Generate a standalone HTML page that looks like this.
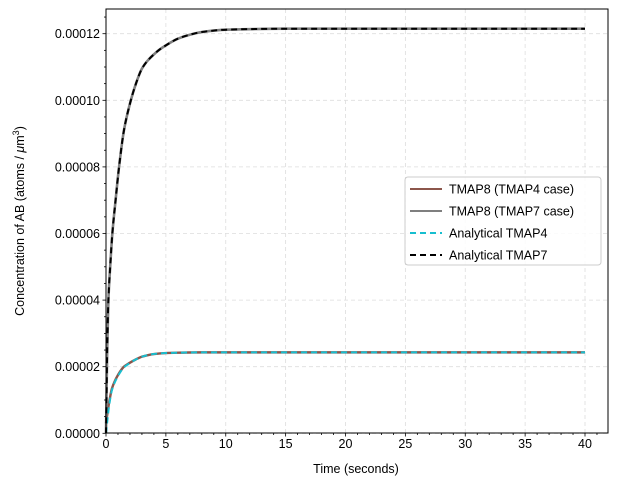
<!DOCTYPE html>
<html><head><meta charset="utf-8"><style>
body{margin:0;background:#fff;font-family:"Liberation Sans",sans-serif}
svg text{font-family:"Liberation Sans","DejaVu Sans",sans-serif;font-size:12.5px;fill:#000}
</style></head><body>
<svg id="c" width="618" height="486"></svg>
<script>
const tA=[0,0.1,0.2,0.35,0.53,0.8,1.09,1.5,2.0,2.5,3,3.5,4,4.5,5,6,7,8,10,15,20,30,40];
const vTMAP7=[0,2.5,4,5,6,7,8,9.1,9.9,10.5,10.95,11.2,11.38,11.53,11.65,11.85,11.97,12.05,12.12,12.15,12.15,12.15,12.15];
const tB=[0,0.25,0.5,1,1.5,2,2.5,3,4,5,6,8,10,20,30,40];
const vTMAP4=[0.3,0.9,1.35,1.75,2.0,2.12,2.22,2.3,2.38,2.41,2.42,2.43,2.43,2.43,2.43,2.43];
const vAna4=[0,0.8,1.3,1.72,1.98,2.11,2.22,2.3,2.38,2.41,2.42,2.43,2.43,2.43,2.43,2.43];
const xTicks=[0,5,10,15,20,25,30,35,40];
const yTicks=[0,2,4,6,8,10,12];
const yLabels=["0.00000","0.00002","0.00004","0.00006","0.00008","0.00010","0.00012"];
const L=106,R=608,T=9,B=433;
const X=t=>106+t*11.975, Y=v=>433.3-v*33.3;
const s=document.getElementById('c'),NS='http://www.w3.org/2000/svg';
function el(tag,a,p){const e=document.createElementNS(NS,tag);for(const k in a)e.setAttribute(k,a[k]);(p||s).appendChild(e);return e;}
const g=el('g',{});

xTicks.forEach(t=>el('line',{x1:X(t),x2:X(t),y1:T,y2:B,stroke:'#ddd','stroke-dasharray':'4,3','stroke-width':0.8},g));
yTicks.forEach(v=>el('line',{x1:L,x2:R,y1:Y(v),y2:Y(v),stroke:'#ddd','stroke-dasharray':'4,3','stroke-width':0.8},g));
function smoothPath(ts,vs){
  const px=ts.map(X),py=vs.map(Y),n=px.length;
  const d=[],m=[];
  for(let i=0;i<n-1;i++)d.push((py[i+1]-py[i])/(px[i+1]-px[i]));
  for(let i=0;i<n;i++){
    if(i===0)m.push(d[0]);else if(i===n-1)m.push(d[n-2]);
    else m.push(d[i-1]*d[i]<=0?0:2/(1/d[i-1]+1/d[i]));
  }
  let p='M'+px[0].toFixed(2)+','+py[0].toFixed(2);
  for(let i=0;i<n-1;i++){const h=(px[i+1]-px[i])/3;
    p+='C'+(px[i]+h).toFixed(2)+','+(py[i]+m[i]*h).toFixed(2)+' '+(px[i+1]-h).toFixed(2)+','+(py[i+1]-m[i+1]*h).toFixed(2)+' '+px[i+1].toFixed(2)+','+py[i+1].toFixed(2);}
  return p;}
function line(ts,vs,color,w,dash,name){
const p=el('path',{d:smoothPath(ts,vs),fill:'none',stroke:color,'stroke-width':w,'stroke-dasharray':dash||'none','stroke-linejoin':'round'});
}
line(tB,vTMAP4,'#8c564b',2.4,'','tmap8-tmap4-line');
line(tA,vTMAP7,'#7f7f7f',2.6,'','tmap8-tmap7-line');
line(tB,vAna4,'#17becf',2,'6,4','analytical-tmap4-line');
line(tA,vTMAP7,'#000',2,'6,4','analytical-tmap7-line');
const ax=el('rect',{x:L,y:T,width:R-L,height:B-T,fill:'none',stroke:'#000','stroke-width':1});

for(let t=0;t<=41;t++){el('line',{x1:X(t),x2:X(t),y1:B,y2:B+(t%5?2:3.5),stroke:'#000','stroke-width':0.8});}
for(let v=0;v<=12.5;v+=0.5){el('line',{x1:L,x2:L-(Math.abs(v%2)<1e-9?3.5:2),y1:Y(v),y2:Y(v),stroke:'#000','stroke-width':0.8});}
xTicks.forEach(t=>{const e=el('text',{x:X(t),y:B+15,'text-anchor':'middle'});e.textContent=t;});
yTicks.forEach((v,i)=>{const e=el('text',{x:L-6,y:Y(v)+4.5,'text-anchor':'end'});e.textContent=yLabels[i];});
const xt=el('text',{x:356,y:473,'text-anchor':'middle'});xt.textContent='Time (seconds)';

const yt=el('text',{x:0,y:0,'text-anchor':'middle',transform:'translate(24,221) rotate(-90)'});
yt.innerHTML='Concentration of AB (atoms / <tspan font-style="italic">μ</tspan>m<tspan dy="-5" font-size="9">3</tspan><tspan dy="5">)</tspan>';

const lg=el('g',{});
el('rect',{x:405,y:177,width:196,height:88,rx:3,fill:'#fff','fill-opacity':0.85,stroke:'#ccc'},lg);
[['TMAP8 (TMAP4 case)','#8c564b',''],['TMAP8 (TMAP7 case)','#7f7f7f',''],['Analytical TMAP4','#17becf','6,4'],['Analytical TMAP7','#000','6,4']].forEach((it,i)=>{
const y=189+i*22;const e=el('g',{},lg);
el('line',{x1:410,x2:442,y1:y,y2:y,stroke:it[1],'stroke-width':2,'stroke-dasharray':it[2]||'none'},e);
const tx=el('text',{x:449,y:y+4.5},e);tx.textContent=it[0];});
</script>
</body></html>
